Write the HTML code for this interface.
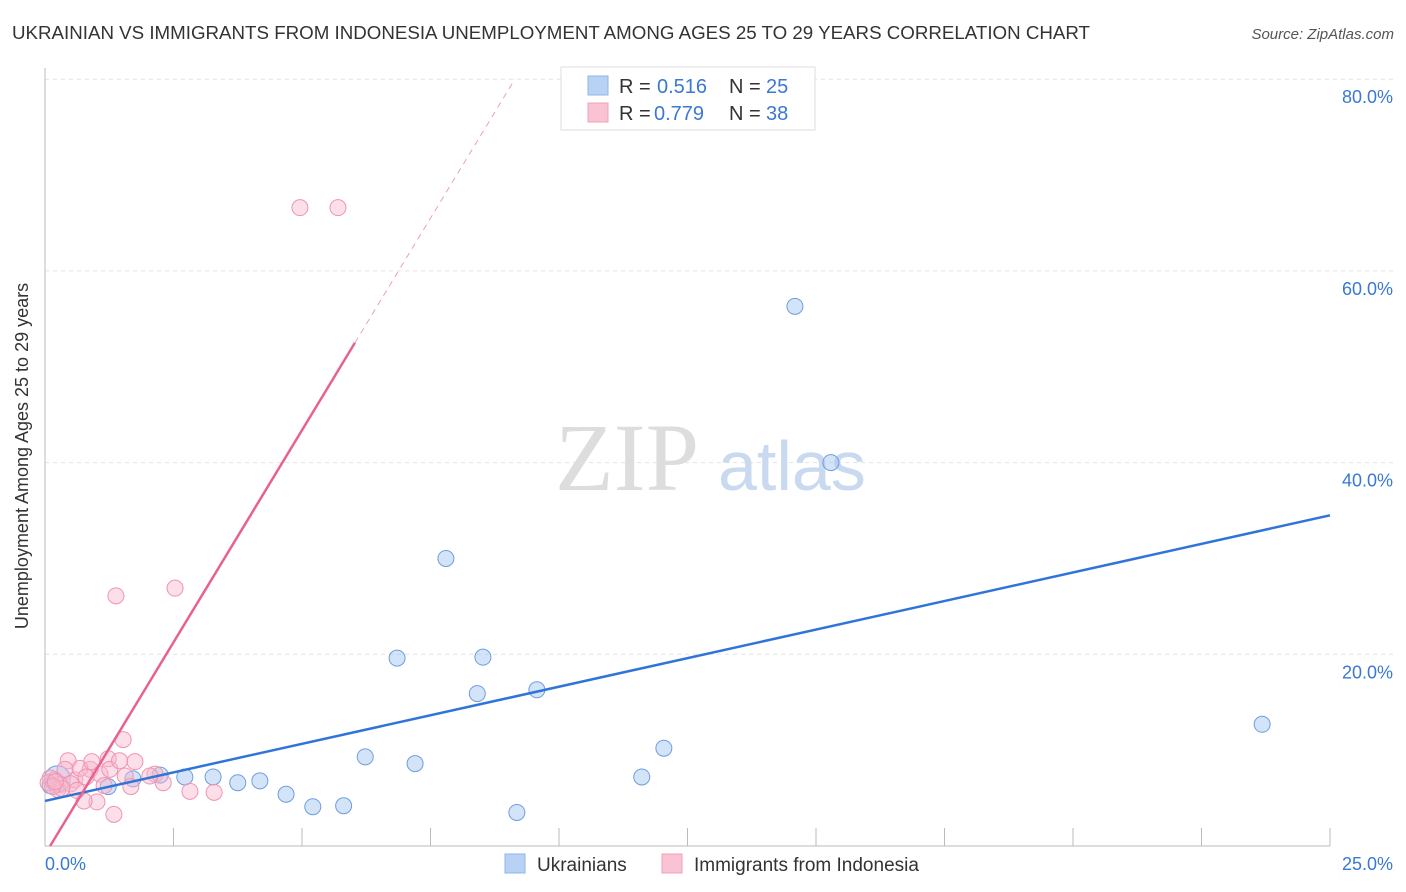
<!DOCTYPE html>
<html><head><meta charset="utf-8"><style>
body{margin:0;background:#fff;font-family:"Liberation Sans",sans-serif;}
svg{display:block}
</style></head><body>
<svg id="chart" width="1406" height="892">
<text x="12" y="39" font-size="18" fill="#333" textLength="1078" lengthAdjust="spacingAndGlyphs">UKRAINIAN VS IMMIGRANTS FROM INDONESIA UNEMPLOYMENT AMONG AGES 25 TO 29 YEARS CORRELATION CHART</text>
<text x="1394" y="39" font-size="15" fill="#555" font-style="italic" text-anchor="end">Source: ZipAtlas.com</text>
<g id="grid"></g>
<text x="555" y="490" font-size="96" fill="#ddd" font-family="Liberation Serif">ZIP</text>
<text x="718" y="490" font-size="70" fill="#c9d9ef">atlas</text>
<g id="marks"></g>
<text x="28" y="456" font-size="18" fill="#333" text-anchor="middle" transform="rotate(-90 28 456)">Unemployment Among Ages 25 to 29 years</text>
<text x="45" y="870" font-size="18" fill="#3a78d4">0.0%</text>
<text x="1393" y="870" font-size="18" fill="#3a78d4" text-anchor="end">25.0%</text>
<g>
<rect x="561" y="67" width="254" height="63" fill="#fff" stroke="#ddd"/>
<rect x="588" y="76" width="20" height="19" fill="#b8d2f5" stroke="#8fb4e6"/>
<rect x="588" y="103" width="20" height="19" fill="#f9c3d3" stroke="#f0a0b8"/>
<text x="619" y="93" font-size="20" fill="#333">R =</text>
<text x="657" y="93" font-size="20" fill="#3a78d4">0.516</text>
<text x="729" y="93" font-size="20" fill="#333">N =</text>
<text x="766" y="93" font-size="20" fill="#3a78d4">25</text>
<text x="619" y="120" font-size="20" fill="#333">R =</text>
<text x="654" y="120" font-size="20" fill="#3a78d4">0.779</text>
<text x="729" y="120" font-size="20" fill="#333">N =</text>
<text x="766" y="120" font-size="20" fill="#3a78d4">38</text>
</g>
<g>
<rect x="505" y="854" width="20" height="19" fill="#b8d2f5" stroke="#8fb4e6"/>
<text x="537" y="871" font-size="19" fill="#333">Ukrainians</text>
<rect x="662" y="854" width="20" height="19" fill="#f9c3d3" stroke="#f0a0b8"/>
<text x="694" y="871" font-size="19" fill="#333">Immigrants from Indonesia</text>
</g>
</svg>
<script>
const yTicks=[20,40,60,80];
const yTickLabels=["20.0%","40.0%","60.0%","80.0%"];
const xTicks=[2.5,5,7.5,10,12.5,15,17.5,20,22.5,25];
const blueX=[0.24,1.23,1.71,2.24,2.72,3.27,3.75,4.18,4.69,5.21,5.81,6.23,6.85,7.2,7.8,8.41,8.52,9.18,9.57,11.61,12.04,14.59,15.29,23.68,0.1];
const blueY=[7.0,6.2,7.0,7.4,7.2,7.2,6.6,6.8,5.4,4.1,4.2,9.3,19.6,8.6,30.0,15.9,19.7,3.5,16.3,7.2,10.2,56.3,40.0,12.7,6.3];
const pinkX=[4.96,5.7,1.38,2.53,1.52,1.23,1.75,0.45,0.88,1.07,1.56,2.14,2.3,2.82,3.29,1.67,1.34,1.01,0.76,0.19,0.29,0.1,0.58,0.68,0.91,0.39,0.25,0.06,1.26,2.04,0.5,0.33,0.8,1.15,1.45,0.15,0.62,0.2];
const pinkY=[66.6,66.6,26.1,26.9,11.1,9.1,8.8,8.9,8.0,7.5,7.3,7.5,6.6,5.7,5.6,6.2,3.3,4.6,4.7,6.9,6.4,7.1,6.9,8.1,8.8,8.0,5.9,6.6,8.0,7.3,6.5,6.0,7.2,6.3,8.9,6.2,5.8,6.7];
const blueLine=[[0,4.7],[25,34.5]];
const pinkLine=[[0.1,0],[6.03,52.5]];
const pinkDash=[[6.03,52.5],[9.14,80]];
const X=v=>45+v*51.4, Y=v=>846-v*9.585;
const NS="http://www.w3.org/2000/svg";
function mk(p,t,a){const e=document.createElementNS(NS,t);for(const k in a)e.setAttribute(k,a[k]);p.appendChild(e);return e;}
const grid=document.getElementById('grid'),marks=document.getElementById('marks'),svg=document.getElementById('chart');
yTicks.forEach((t,i)=>{
 const l=mk(grid,'line',{x1:45,x2:1393,y1:Y(t),y2:Y(t),stroke:'#e3e3e3','stroke-dasharray':'4,4'});
 
 
 const tx=mk(svg,'text',{x:1393,y:Y(t)+24,'font-size':18,fill:'#3a78d4','text-anchor':'end'});
 tx.textContent=yTickLabels[i];
 
 
});
const ax=mk(grid,'line',{x1:45,x2:45,y1:68,y2:846,stroke:'#bbb'});


const bx=mk(grid,'line',{x1:45,x2:1330,y1:846,y2:846,stroke:'#bbb'});


xTicks.forEach(t=>{
 const l=mk(grid,'line',{x1:X(t),x2:X(t),y1:828,y2:846,stroke:'#bbb'});
 
 
});
blueX.forEach((v,i)=>{
 const c=mk(marks,'circle',{cx:X(v),cy:Y(blueY[i]),r:i==0?13:8,fill:'rgba(160,195,240,0.45)',stroke:'#6d9de0','stroke-width':1});
 
 
});
pinkX.forEach((v,i)=>{
 const c=mk(marks,'circle',{cx:X(v),cy:Y(pinkY[i]),r:8,fill:'rgba(248,185,205,0.45)',stroke:'#ef94b2','stroke-width':1});
 
 
});
const b=mk(marks,'line',{x1:X(blueLine[0][0]),y1:Y(blueLine[0][1]),x2:X(blueLine[1][0]),y2:Y(blueLine[1][1]),stroke:'#2f74d8','stroke-width':2.5});


const p=mk(marks,'line',{x1:X(pinkLine[0][0]),y1:Y(pinkLine[0][1]),x2:X(pinkLine[1][0]),y2:Y(pinkLine[1][1]),stroke:'#e8628f','stroke-width':2.5});


const d=mk(marks,'line',{x1:X(pinkDash[0][0]),y1:Y(pinkDash[0][1]),x2:X(pinkDash[1][0]),y2:Y(pinkDash[1][1]),stroke:'#e8a0b8','stroke-width':1,'stroke-dasharray':'6,5'});


</script>
</body></html>
